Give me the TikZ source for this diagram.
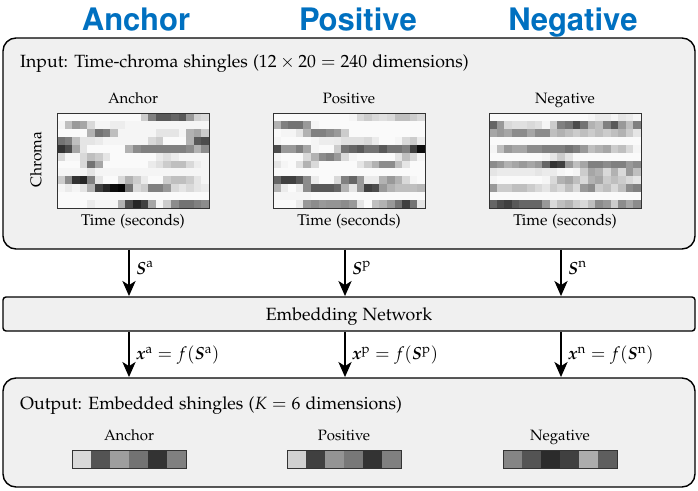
\documentclass[tikz,border=0pt]{standalone}
\usepackage[T1]{fontenc}
\usepackage[sc]{mathpazo}
\usepackage{bm}
\usetikzlibrary{arrows.meta}
\definecolor{boxgray}{HTML}{F0F0F0}
\definecolor{titleblue}{HTML}{0070C0}
\definecolor{mapframe}{HTML}{333333}
\newcommand{\heatmap}[3]{% x0, y0, rows
  \foreach \rw [count=\r from 0] in {#3}{%
    \foreach \v [count=\c from 0] in \rw {%
      \pgfmathsetmacro\pct{100*(1-\v)}%
      \fill[black!\pct] ({#1+\c*7.6},{#2+\r*7.92}) rectangle ++(7.6,7.92);
    }%
  }%
  \draw[mapframe, line width=0.8pt] (#1,#2) rectangle ++(152,95.04);
}
\newcommand{\embbar}[3]{% xcenter, y0, values
  \foreach \v [count=\c from 0] in {#3}{%
    \pgfmathsetmacro\pct{100*(1-\v)}%
    \fill[black!\pct] ({#1-57+\c*19},#2) rectangle ++(19,18);
  }%
  \draw[mapframe, line width=0.8pt] ({#1-57},#2) rectangle ++(114,18);
}
\begin{document}
\begin{tikzpicture}[x=1pt,y=-1pt,
  bigbox/.style={draw=black, line width=1.4pt, fill=boxgray, rounded corners=13pt, inner sep=0pt},
  netbox/.style={draw=black, line width=1.4pt, fill=boxgray, rounded corners=3pt, inner sep=0pt},
  title/.style={font=\fontsize{31}{36}\fontfamily{phv}\fontseries{b}\selectfont, text=titleblue, inner sep=0pt, anchor=base},
  maintext/.style={font=\fontsize{17.7}{21}\selectfont, inner sep=0pt},
  axislabel/.style={font=\fontsize{15.5}{18}\selectfont, inner sep=0pt},
  sublabel/.style={font=\fontsize{15}{18}\selectfont, inner sep=0pt, anchor=base},
  arr/.style={line width=2.6pt, -{Stealth[length=15pt,width=13pt,inset=4pt]}, shorten >=0.2pt},
  arrlabel/.style={font=\fontsize{17.5}{21}\selectfont, inner sep=0pt, anchor=west}
]
\useasboundingbox (0,0) rectangle (698,490);
% titles
\node[title] (tA) at (136,30) {Anchor};
\node[title] (tP) at (358,30) {Positive};
\node[title] (tN) at (573,30) {Negative};
% boxes
\node[bigbox, minimum width=692pt, minimum height=211pt] (inbox) at (349,143.5) {};
\node[netbox, minimum width=692pt, minimum height=34pt] (net) at (349,314) {};
\node[bigbox, minimum width=692pt, minimum height=109pt] (outbox) at (349,432.5) {};
% column coordinates
\coordinate (ca) at (129,0);
\coordinate (cp) at (345,0);
\coordinate (cn) at (561,0);
% input box contents
\node[maintext, anchor=base west] (intext) at (20,67) {Input: Time-chroma shingles ($12\times20=240$ dimensions)};
\node[sublabel] (hA) at (133,103) {Anchor};
\node[sublabel] (hP) at (349,103) {Positive};
\node[sublabel] (hN) at (565,103) {Negative};
\node[axislabel] (xA) at (133,222) {Time (seconds)};
\node[axislabel] (xP) at (349,222) {Time (seconds)};
\node[axislabel] (xN) at (565,222) {Time (seconds)};
\node[axislabel, rotate=90] (yA) at (36,160) {Chroma};
\heatmap{57}{113}{%
{.98,.98,.98,.98,.98,.98,.98,.98,.98,.98,.98,.8,.5,.35,.35,.4,.35,.6,.82,.85},
{.96,.75,.6,.65,.85,.96,.96,.93,.93,.96,.96,.96,.96,.96,.96,.96,.96,.96,.96,.96},
{.98,.98,.98,.98,.7,.45,.5,.75,.96,.96,.96,.96,.96,.9,.9,.9,.96,.7,.65,.8},
{.45,.5,.75,.9,.9,.92,.96,.96,.96,.96,.96,.96,.85,.8,.98,.98,.98,.7,.35,.3},
{.2,.3,.65,.9,.98,.98,.98,.98,.98,.7,.55,.5,.5,.5,.5,.5,.5,.55,.7,.55},
{.85,.96,.96,.85,.75,.8,.9,.98,.98,.98,.98,.98,.98,.92,.88,.92,.96,.96,.96,.96},
{.98,.98,.98,.85,.45,.65,.98,.98,.98,.98,.98,.98,.92,.88,.8,.75,.75,.85,.93,.96},
{.96,.96,.96,.96,.9,.96,.96,.96,.96,.96,.96,.96,.96,.96,.96,.96,.96,.96,.96,.96},
{.8,.55,.2,.15,.5,.9,.98,.98,.85,.7,.8,.92,.98,.98,.8,.75,.75,.8,.9,.96},
{.96,.92,.96,.9,.7,.25,.15,.05,.02,.45,.85,.8,.5,.5,.6,.85,.9,.85,.9,.92},
{.98,.98,.98,.98,.98,.98,.98,.98,.98,.98,.98,.98,.98,.98,.98,.98,.98,.98,.98,.98},
{.98,.98,.98,.98,.92,.96,.96,.96,.7,.3,.15,.25,.65,.96,.8,.55,.45,.45,.5,.55}}
\heatmap{273}{113}{%
{.98,.98,.98,.98,.98,.98,.98,.98,.98,.98,.96,.85,.8,.85,.88,.85,.75,.75,.8,.85},
{.7,.5,.45,.45,.6,.96,.98,.98,.98,.98,.98,.98,.98,.98,.98,.98,.98,.98,.98,.98},
{.98,.96,.96,.9,.7,.5,.5,.55,.6,.8,.98,.98,.98,.98,.98,.98,.98,.98,.98,.98},
{.96,.98,.98,.98,.98,.96,.93,.93,.92,.88,.88,.88,.85,.92,.98,.98,.96,.85,.8,.92},
{.3,.6,.6,.5,.65,.96,.98,.98,.8,.45,.4,.35,.45,.45,.35,.45,.45,.5,.25,.05},
{.96,.98,.98,.98,.85,.7,.55,.5,.6,.85,.96,.98,.98,.98,.98,.98,.9,.75,.85,.96},
{.9,.96,.98,.88,.7,.85,.98,.98,.98,.98,.98,.9,.8,.7,.55,.55,.75,.9,.98,.98},
{.98,.98,.98,.98,.98,.98,.98,.98,.98,.98,.98,.98,.98,.98,.98,.98,.98,.98,.98,.98},
{.4,.25,.25,.35,.55,.92,.98,.98,.85,.5,.4,.6,.92,.92,.7,.6,.7,.85,.96,.98},
{.7,.92,.98,.92,.55,.35,.35,.35,.4,.7,.9,.6,.25,.3,.6,.7,.75,.75,.75,.72},
{.96,.96,.96,.96,.96,.98,.98,.98,.98,.98,.98,.98,.98,.98,.98,.98,.98,.98,.98,.98},
{.98,.98,.98,.92,.6,.55,.6,.58,.58,.55,.6,.9,.98,.75,.7,.6,.45,.25,.45,.9}}
\heatmap{489}{113}{%
{.98,.98,.98,.98,.98,.98,.98,.98,.98,.98,.98,.98,.98,.96,.92,.92,.96,.9,.92,.96},
{.4,.6,.85,.88,.88,.85,.88,.96,.8,.5,.45,.3,.45,.7,.75,.5,.35,.6,.75,.5},
{.65,.6,.65,.55,.55,.65,.55,.55,.75,.7,.75,.8,.75,.8,.75,.8,.75,.7,.8,.9},
{.98,.98,.98,.98,.98,.98,.98,.98,.98,.98,.98,.98,.98,.98,.98,.98,.98,.98,.98,.98},
{.96,.75,.6,.65,.65,.55,.55,.5,.5,.5,.45,.5,.6,.75,.7,.65,.8,.75,.85,.96},
{.98,.98,.98,.98,.98,.98,.98,.96,.9,.8,.9,.98,.98,.98,.98,.98,.98,.98,.98,.98},
{.55,.6,.7,.65,.6,.65,.6,.4,.2,.25,.6,.75,.65,.5,.5,.55,.5,.5,.6,.55},
{.9,.92,.92,.92,.92,.92,.9,.92,.92,.96,.98,.96,.8,.65,.7,.85,.7,.85,.6,.75},
{.96,.98,.98,.98,.98,.98,.98,.96,.85,.7,.65,.75,.85,.7,.65,.8,.75,.8,.85,.9},
{.6,.8,.8,.75,.75,.8,.85,.9,.8,.85,.75,.85,.6,.55,.8,.75,.85,.75,.55,.5},
{.98,.98,.98,.98,.98,.98,.98,.98,.98,.98,.98,.98,.98,.98,.98,.98,.98,.98,.98,.98},
{.4,.3,.25,.35,.4,.4,.4,.6,.85,.75,.7,.8,.85,.75,.55,.6,.8,.55,.65,.55}}
% arrows
\draw[arr] (inbox.south -| ca) -- (net.north -| ca);
\draw[arr] (inbox.south -| cp) -- (net.north -| cp);
\draw[arr] (inbox.south -| cn) -- (net.north -| cn);
\draw[arr] (net.south -| ca) -- (outbox.north -| ca);
\draw[arr] (net.south -| cp) -- (outbox.north -| cp);
\draw[arr] (net.south -| cn) -- (outbox.north -| cn);
\node[arrlabel] (lSa) at (136,268) {$\bm{S}^{\mathrm{a}}$};
\node[arrlabel] (lSp) at (352,268) {$\bm{S}^{\mathrm{p}}$};
\node[arrlabel] (lSn) at (568,268) {$\bm{S}^{\mathrm{n}}$};
\node[maintext, anchor=base] (nettext) at (349,320) {Embedding Network};
\node[arrlabel] (lxa) at (136,355) {$\bm{x}^{\mathrm{a}}=f(\bm{S}^{\mathrm{a}})$};
\node[arrlabel] (lxp) at (352,355) {$\bm{x}^{\mathrm{p}}=f(\bm{S}^{\mathrm{p}})$};
\node[arrlabel] (lxn) at (568,355) {$\bm{x}^{\mathrm{n}}=f(\bm{S}^{\mathrm{n}})$};
% output box contents
\node[maintext, anchor=base west] (outtext) at (20,409) {Output: Embedded shingles ($K=6$ dimensions)};
\node[sublabel] (bA) at (129,440) {Anchor};
\node[sublabel] (bP) at (344,440) {Positive};
\node[sublabel] (bN) at (560,440) {Negative};
\embbar{129}{450}{.85,.33,.62,.45,.2,.5}
\embbar{344}{450}{.82,.25,.58,.47,.2,.5}
\embbar{560}{450}{.52,.33,.17,.25,.68,.37}
\end{tikzpicture}
\end{document}
